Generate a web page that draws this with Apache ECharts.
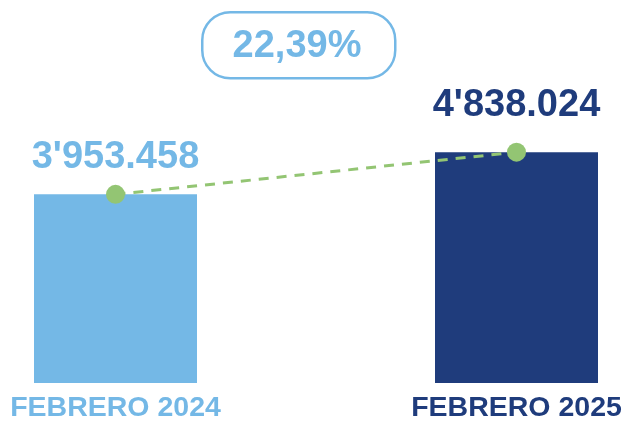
<!DOCTYPE html>
<html>
<head>
<meta charset="utf-8">
<script src="https://cdn.jsdelivr.net/npm/echarts@6/dist/echarts.min.js"></script>
<style>
  html, body { margin: 0; padding: 0; background: #fff; }
  #chart { width: 623px; height: 423px; }
</style>
</head>
<body>
<div id="chart"></div>
<script>
const categories = ['FEBRERO 2024', 'FEBRERO 2025'];
const values = [3953458, 4838024];
const valueLabels = ["3'953.458", "4'838.024"];
const changeLabel = '22,39%';

const lightBlue = '#74B8E6';
const navy = '#1F3C7C';
const green = '#93C573';
const barColors = [lightBlue, navy];
const labelDistances = [18, 28];

const chart = echarts.init(document.getElementById('chart'));

const option = {
  animation: false,
  grid: {
    left: 115.5, right: 106.5, top: 49, bottom: 40,
    containLabel: false,
    outerBoundsMode: 'none'
  },
  textStyle: { fontFamily: 'Liberation Sans', fontWeight: 'bold' },
  xAxis: {
    type: 'category',
    boundaryGap: false,
    data: categories.map((c, i) => ({ value: c, textStyle: { color: barColors[i] } })),
    axisLine: { show: false },
    axisTick: { show: false },
    axisLabel: {
      fontSize: 28.5,
      fontWeight: 'bold',
      fontFamily: 'Liberation Sans',
      margin: 11,
      interval: 0
    }
  },
  yAxis: {
    type: 'value',
    min: 0,
    max: 7000000,
    show: false,
    splitLine: { show: false }
  },
  series: [
    {
      type: 'bar',
      barWidth: 163,
      data: values.map((v, i) => ({
        value: v,
        itemStyle: { color: barColors[i] },
        label: {
          show: true,
          position: 'top',
          distance: labelDistances[i],
          formatter: valueLabels[i],
          color: barColors[i],
          fontSize: 38,
          fontWeight: 'bold',
          fontFamily: 'Liberation Sans'
        }
      }))
    },
    {
      type: 'line',
      data: values,
      symbol: 'circle',
      symbolSize: 19,
      itemStyle: { color: green },
      lineStyle: { color: green, width: 3, type: [10, 8] },
      z: 5
    }
  ],
  graphic: [
    {
      type: 'rect',
      left: 201,
      top: 11,
      shape: { width: 193, height: 66, r: 28 },
      style: { fill: '#fff', stroke: lightBlue, lineWidth: 2.5 }
    },
    {
      type: 'text',
      x: 297,
      y: 47,
      style: {
        text: changeLabel,
        fill: lightBlue,
        font: 'bold 38px "Liberation Sans"',
        align: 'center',
        verticalAlign: 'middle'
      }
    }
  ]
};

chart.setOption(option);
</script>
</body>
</html>
